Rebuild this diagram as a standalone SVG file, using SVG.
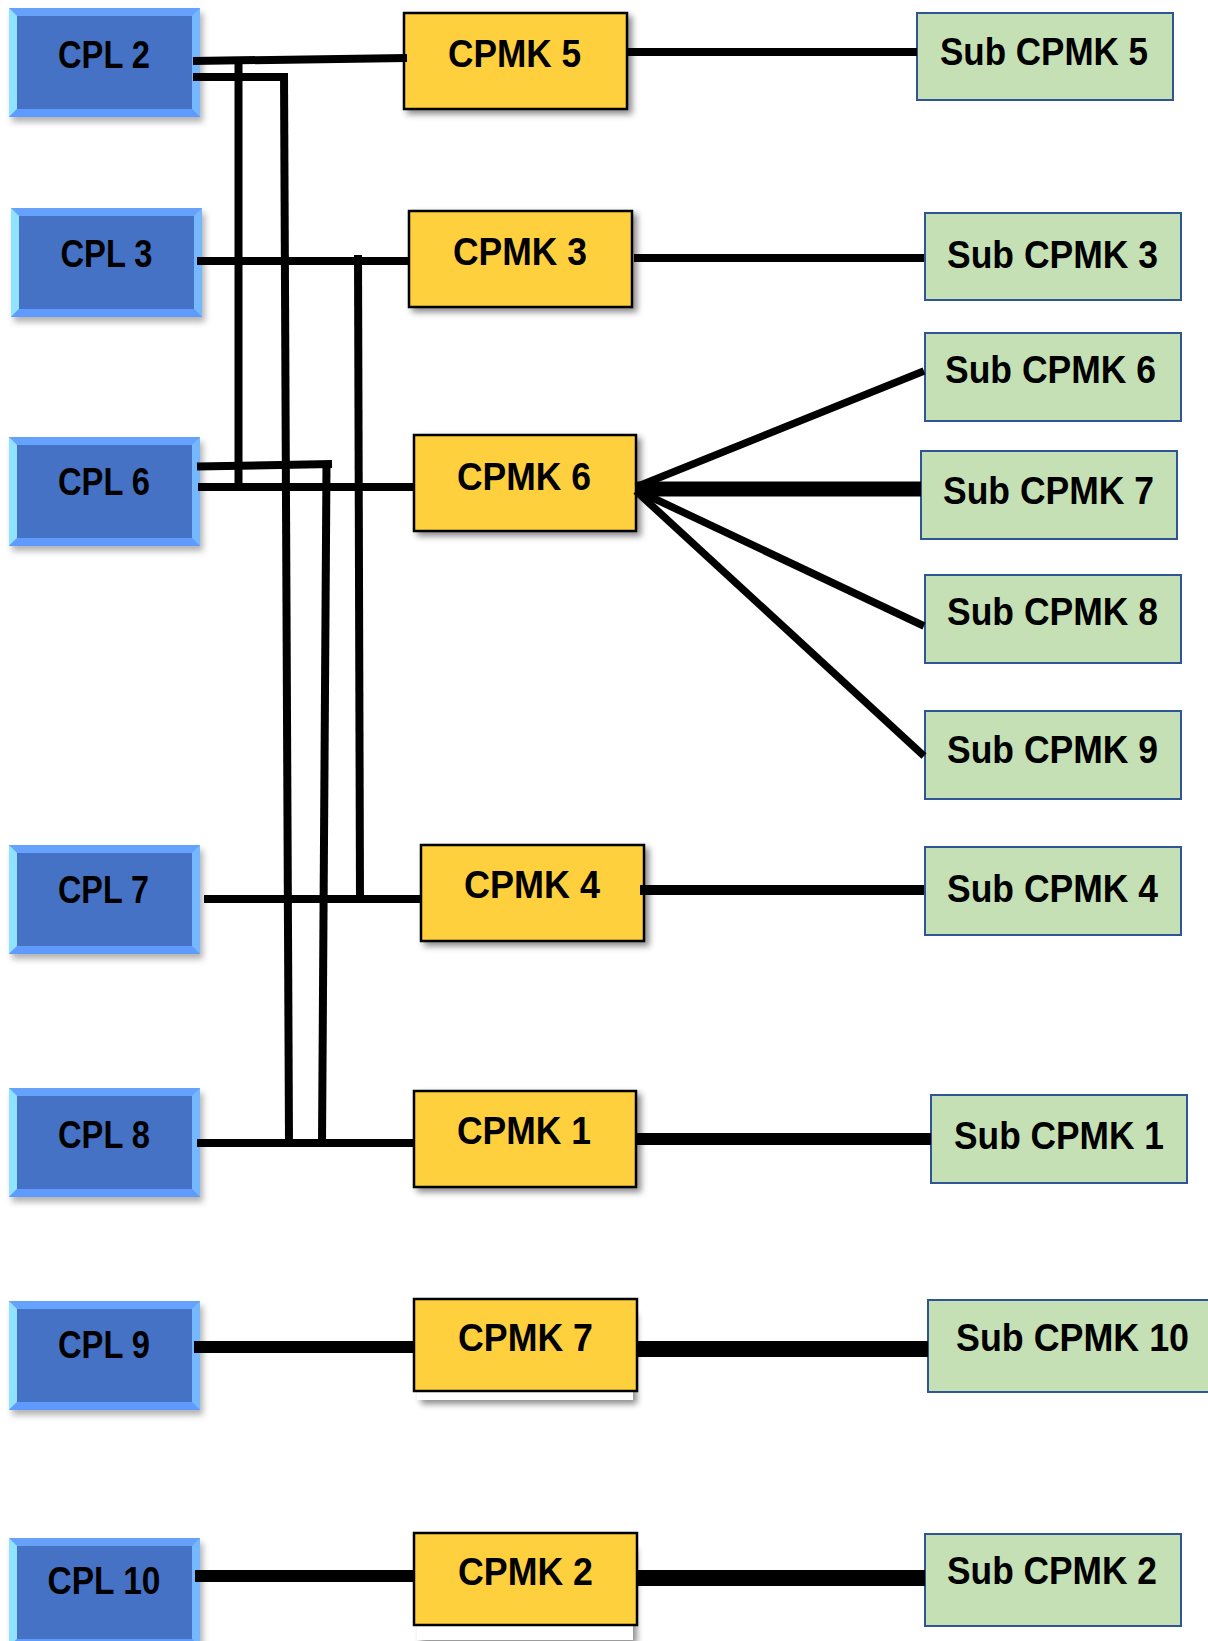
<svg xmlns="http://www.w3.org/2000/svg" xmlns:xlink="http://www.w3.org/1999/xlink" width="1208" height="1641" viewBox="0 0 1208 1641">
  <defs>
    <filter id="cplShadow" x="-10%" y="-10%" width="130%" height="140%">
      <feDropShadow dx="3" dy="5" stdDeviation="3" flood-color="#000" flood-opacity="0.3"/>
    </filter>
    <filter id="boxShadow" x="-10%" y="-10%" width="130%" height="140%">
      <feDropShadow dx="4" dy="4" stdDeviation="3" flood-color="#000" flood-opacity="0.45"/>
    </filter>
    <!-- bevelled blue block used for every CPL -->
    <g id="cplShape">
      <rect width="191" height="109" fill="#66a2fb"/>
      <polygon points="0,0 8,8 8,101 0,109" fill="#8fe3ff"/>
      <polygon points="191,0 183,8 183,101 191,109" fill="#76b8ff"/>
      <polygon points="0,109 8,101 183,101 191,109" fill="#5f9bfd"/>
      <rect x="8" y="8" width="175" height="93" fill="#4472c4"/>
    </g>
    <style>
      .lbl { font-family: "Liberation Sans", Arial, sans-serif; font-weight: bold; font-size: 39px; fill: #000; }
      .cpmk { fill: #ffd03e; stroke: #000; stroke-width: 2.5; }
      .sub { fill: #c5e0b4; stroke: #2f5597; stroke-width: 2; }
      .back { fill: #fff; }
      .wire { stroke: #000; fill: none; stroke-linecap: butt; stroke-linejoin: miter; }
    </style>
  </defs>

  <rect width="1208" height="1641" fill="#fff"/>

  <!-- CPL blocks -->
  <g id="cpl2">
    <use xlink:href="#cplShape" href="#cplShape" x="9" y="8" filter="url(#cplShadow)"/>
    <text class="lbl" x="58" y="68" textLength="92" lengthAdjust="spacingAndGlyphs">CPL 2</text>
  </g>
  <g id="cpl3">
    <use xlink:href="#cplShape" href="#cplShape" x="11" y="208" filter="url(#cplShadow)"/>
    <text class="lbl" x="60.5" y="267" textLength="92" lengthAdjust="spacingAndGlyphs">CPL 3</text>
  </g>
  <g id="cpl6">
    <use xlink:href="#cplShape" href="#cplShape" x="9" y="437" filter="url(#cplShadow)"/>
    <text class="lbl" x="58" y="495" textLength="92" lengthAdjust="spacingAndGlyphs">CPL 6</text>
  </g>
  <g id="cpl7">
    <use xlink:href="#cplShape" href="#cplShape" x="9" y="845" filter="url(#cplShadow)"/>
    <text class="lbl" x="58" y="903" textLength="91" lengthAdjust="spacingAndGlyphs">CPL 7</text>
  </g>
  <g id="cpl8">
    <use xlink:href="#cplShape" href="#cplShape" x="9" y="1088" filter="url(#cplShadow)"/>
    <text class="lbl" x="58" y="1148" textLength="92" lengthAdjust="spacingAndGlyphs">CPL 8</text>
  </g>
  <g id="cpl9">
    <use xlink:href="#cplShape" href="#cplShape" x="9" y="1301" filter="url(#cplShadow)"/>
    <text class="lbl" x="58" y="1358" textLength="92" lengthAdjust="spacingAndGlyphs">CPL 9</text>
  </g>
  <g id="cpl10">
    <use xlink:href="#cplShape" href="#cplShape" x="9" y="1538" filter="url(#cplShadow)"/>
    <text class="lbl" x="47.5" y="1594" textLength="113" lengthAdjust="spacingAndGlyphs">CPL 10</text>
  </g>

  <!-- CPMK blocks -->
  <g id="cpmk5">
    <rect class="cpmk" x="404" y="13" width="223" height="96" filter="url(#boxShadow)"/>
    <text class="lbl" x="448" y="67" textLength="133" lengthAdjust="spacingAndGlyphs">CPMK 5</text>
  </g>
  <g id="cpmk3">
    <rect class="cpmk" x="409" y="211" width="223" height="96" filter="url(#boxShadow)"/>
    <text class="lbl" x="453" y="265" textLength="134" lengthAdjust="spacingAndGlyphs">CPMK 3</text>
  </g>
  <g id="cpmk6">
    <rect class="cpmk" x="414" y="435" width="222" height="96" filter="url(#boxShadow)"/>
    <text class="lbl" x="457" y="490" textLength="134" lengthAdjust="spacingAndGlyphs">CPMK 6</text>
  </g>
  <g id="cpmk4">
    <rect class="cpmk" x="421" y="845" width="223" height="96" filter="url(#boxShadow)"/>
    <text class="lbl" x="464" y="898" textLength="136" lengthAdjust="spacingAndGlyphs">CPMK 4</text>
  </g>
  <g id="cpmk1">
    <rect class="cpmk" x="414" y="1091" width="222" height="96" filter="url(#boxShadow)"/>
    <text class="lbl" x="457" y="1144" textLength="134" lengthAdjust="spacingAndGlyphs">CPMK 1</text>
  </g>
  <g id="cpmk7">
    <rect class="back" x="417" y="1310" width="216" height="90" filter="url(#boxShadow)"/>
    <rect class="cpmk" x="414" y="1299" width="223" height="92"/>
    <text class="lbl" x="458" y="1351" textLength="135" lengthAdjust="spacingAndGlyphs">CPMK 7</text>
  </g>
  <g id="cpmk2">
    <rect class="back" x="417" y="1545" width="216" height="95" filter="url(#boxShadow)"/>
    <rect class="cpmk" x="414" y="1533" width="223" height="92"/>
    <text class="lbl" x="458" y="1585" textLength="135" lengthAdjust="spacingAndGlyphs">CPMK 2</text>
  </g>

  <!-- Sub CPMK blocks -->
  <g id="sub5">
    <rect class="sub" x="917" y="13" width="256" height="87"/>
    <text class="lbl" x="940" y="65" textLength="208" lengthAdjust="spacingAndGlyphs">Sub CPMK 5</text>
  </g>
  <g id="sub3">
    <rect class="sub" x="925" y="213" width="256" height="87"/>
    <text class="lbl" x="947" y="268" textLength="211" lengthAdjust="spacingAndGlyphs">Sub CPMK 3</text>
  </g>
  <g id="sub6">
    <rect class="sub" x="925" y="333" width="256" height="88"/>
    <text class="lbl" x="945" y="383" textLength="211" lengthAdjust="spacingAndGlyphs">Sub CPMK 6</text>
  </g>
  <g id="sub7">
    <rect class="sub" x="921" y="451" width="256" height="88"/>
    <text class="lbl" x="943" y="504" textLength="211" lengthAdjust="spacingAndGlyphs">Sub CPMK 7</text>
  </g>
  <g id="sub8">
    <rect class="sub" x="925" y="575" width="256" height="88"/>
    <text class="lbl" x="947" y="625" textLength="211" lengthAdjust="spacingAndGlyphs">Sub CPMK 8</text>
  </g>
  <g id="sub9">
    <rect class="sub" x="925" y="711" width="256" height="88"/>
    <text class="lbl" x="947" y="763" textLength="211" lengthAdjust="spacingAndGlyphs">Sub CPMK 9</text>
  </g>
  <g id="sub4">
    <rect class="sub" x="925" y="847" width="256" height="88"/>
    <text class="lbl" x="947" y="902" textLength="211" lengthAdjust="spacingAndGlyphs">Sub CPMK 4</text>
  </g>
  <g id="sub1">
    <rect class="sub" x="931" y="1095" width="256" height="88"/>
    <text class="lbl" x="954" y="1149" textLength="210" lengthAdjust="spacingAndGlyphs">Sub CPMK 1</text>
  </g>
  <g id="sub10">
    <rect class="sub" x="928" y="1300" width="290" height="92"/>
    <text class="lbl" x="956" y="1351" textLength="233" lengthAdjust="spacingAndGlyphs">Sub CPMK 10</text>
  </g>
  <g id="sub2">
    <rect class="sub" x="925" y="1534" width="256" height="92"/>
    <text class="lbl" x="947" y="1584" textLength="210" lengthAdjust="spacingAndGlyphs">Sub CPMK 2</text>
  </g>

  <!-- connectors, drawn over the block edges -->
  <g id="connectors" class="wire">
    <!-- CPL side -->
    <line x1="193" y1="61" x2="407" y2="58" stroke-width="8"/>
    <polyline points="193,77 288,77" stroke-width="8"/>
    <line x1="284" y1="73" x2="289" y2="1143" stroke-width="8"/>
    <line x1="238.5" y1="57" x2="238.5" y2="491" stroke-width="8"/>
    <line x1="197" y1="261" x2="410" y2="261" stroke-width="8"/>
    <line x1="358" y1="255" x2="360" y2="899" stroke-width="8"/>
    <line x1="197" y1="466.5" x2="332" y2="464" stroke-width="8"/>
    <line x1="326.5" y1="464" x2="322" y2="1143" stroke-width="8"/>
    <line x1="198" y1="487" x2="414" y2="487" stroke-width="8"/>
    <line x1="204" y1="899" x2="421" y2="899" stroke-width="8"/>
    <line x1="197" y1="1143" x2="413" y2="1143" stroke-width="8"/>
    <line x1="194" y1="1347" x2="414" y2="1347" stroke-width="12"/>
    <line x1="195" y1="1576" x2="414" y2="1576" stroke-width="12"/>
    <!-- CPMK to Sub CPMK -->
    <line x1="628" y1="52" x2="917" y2="52" stroke-width="8"/>
    <line x1="634" y1="258" x2="924" y2="258" stroke-width="8"/>
    <line x1="636" y1="487" x2="924" y2="371" stroke-width="7.5"/>
    <line x1="636" y1="489" x2="921" y2="489" stroke-width="15"/>
    <line x1="636" y1="490" x2="924" y2="626" stroke-width="7.5"/>
    <line x1="636" y1="491" x2="924" y2="756" stroke-width="7.5"/>
    <line x1="640" y1="890" x2="924" y2="890" stroke-width="10"/>
    <line x1="635" y1="1139" x2="931" y2="1139" stroke-width="12"/>
    <line x1="636" y1="1349" x2="928" y2="1349" stroke-width="16"/>
    <line x1="636" y1="1578" x2="925" y2="1578" stroke-width="16"/>
  </g>
</svg>
